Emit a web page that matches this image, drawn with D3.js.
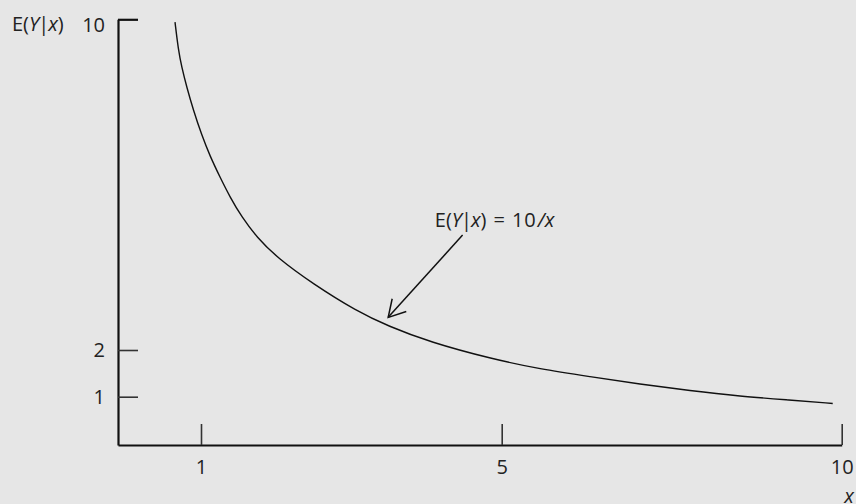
<!DOCTYPE html>
<html>
<head>
<meta charset="utf-8">
<script src="https://cdn.jsdelivr.net/npm/d3@7"></script>
<style>
  html, body { margin: 0; padding: 0; background: #e6e6e6; }
  svg { display: block; font-family: "Open Sans", sans-serif; }
</style>
</head>
<body>
<script>
const width = 856;
const height = 504;

// curve E(Y|x) = 10/x
const curveX = [0.687, 0.727, 0.767, 0.828, 0.907, 1.009, 1.12, 1.253, 1.386, 1.541, 1.741, 2.015,
                2.49, 3.071, 3.488, 4.046, 4.867, 5.563, 6.299, 7.034, 7.769, 8.504, 9.24, 9.868];
const curveY = [9.93, 9.26, 8.85, 8.36, 7.81, 7.2, 6.69, 6.18, 5.7, 5.22, 4.73, 4.23,
                3.6, 2.94, 2.58, 2.19, 1.81, 1.59, 1.43, 1.27, 1.13, 1.01, 0.93, 0.86];

const xTicks = [1, 5, 10];
const yTicks = [1, 2, 10];

// schematic axes: tick spacing is not uniform in the original
const xScale = d3.scaleLinear()
                .domain([0, 1, 5, 10])
                .range([118, 201, 501.7, 841.7]);

const yScale = d3.scaleLinear()
                .domain([0, 1, 2, 10])
                .range([445, 396.7, 350, 19.3]);

const svg = d3.select('body')
              .append('svg')
              .attr('width', width)
              .attr('height', height);

svg.append('rect')
    .attr('width', width)
    .attr('height', height)
    .attr('fill', '#e6e6e6');

const xAxis = d3.axisBottom(xScale)
                .tickValues(xTicks)
                .tickSizeInner(-21)
                .tickSizeOuter(0)
                .tickPadding(15)
                .tickFormat(d3.format('d'));

const yAxis = d3.axisLeft(yScale)
                .tickValues(yTicks)
                .tickSizeInner(-20)
                .tickSizeOuter(0)
                .tickPadding(13)
                .tickFormat(d3.format('d'));

const gx = svg.append('g')
    .attr('transform', 'translate(0,' + yScale(0) + ')')
    .call(xAxis);

const gy = svg.append('g')
    .attr('transform', 'translate(' + xScale(0) + ',0)')
    .call(yAxis);

[gx, gy].forEach(g => {
  g.select('.domain').attr('stroke', '#111').attr('stroke-width', 2.2);
  g.selectAll('.tick line').attr('stroke', '#333').attr('stroke-width', 1.6);
  g.selectAll('.tick text')
    .attr('fill', '#222')
    .style('font-size', '20px')
    .style('font-family', '"Open Sans", sans-serif');
});

// top tick forms the corner of the axis, label sits a bit lower
gy.selectAll('.tick')
  .filter(d => d === 10)
  .call(t => t.select('line').attr('stroke', '#111').attr('stroke-width', 2.2))
  .call(t => t.select('text').attr('dy', '0.62em'));

// axis titles
const yTitle = svg.append('text')
    .attr('x', 12)
    .attr('y', 31)
    .attr('fill', '#222')
    .style('font-size', '20px');
yTitle.append('tspan').text('E(');
yTitle.append('tspan').attr('font-style', 'italic').text('Y');
yTitle.append('tspan').attr('dx', -1).text('|');
yTitle.append('tspan').attr('dx', -1).attr('font-style', 'italic').text('x');
yTitle.append('tspan').text(')');

svg.append('text')
    .attr('x', 849)
    .attr('y', 503)
    .attr('text-anchor', 'middle')
    .attr('fill', '#222')
    .attr('font-style', 'italic')
    .style('font-size', '20px')
    .text('x');

// curve
const line = d3.line()
               .x(d => xScale(d[0]))
               .y(d => yScale(d[1]))
               .curve(d3.curveBasis);

svg.append('path')
    .datum(d3.zip(curveX, curveY))
    .attr('d', line)
    .attr('fill', 'none')
    .attr('stroke', '#111')
    .attr('stroke-width', 1.4);

// annotation arrow
const arrowFrom = [4.48, 4.78];
const arrowTo = [3.49, 2.79];
const x0 = xScale(arrowFrom[0]), y0 = yScale(arrowFrom[1]);
const x1 = xScale(arrowTo[0]), y1 = yScale(arrowTo[1]);
const ang = Math.atan2(y0 - y1, x0 - x1);
const barbLength = 19;
const barbAngle = Math.PI / 6;

svg.append('line')
    .attr('x1', x0).attr('y1', y0)
    .attr('x2', x1).attr('y2', y1)
    .attr('stroke', '#111')
    .attr('stroke-width', 1.5);

svg.append('path')
    .attr('d', 'M' + (x1 + barbLength * Math.cos(ang - barbAngle)) + ',' + (y1 + barbLength * Math.sin(ang - barbAngle)) +
               'L' + x1 + ',' + y1 +
               'L' + (x1 + barbLength * Math.cos(ang + barbAngle)) + ',' + (y1 + barbLength * Math.sin(ang + barbAngle)))
    .attr('fill', 'none')
    .attr('stroke', '#111')
    .attr('stroke-width', 1.5);

const label = svg.append('text')
    .attr('x', xScale(4.11))
    .attr('y', yScale(4.98))
    .attr('fill', '#222')
    .style('font-size', '20px');
label.append('tspan').text('E(');
label.append('tspan').attr('font-style', 'italic').text('Y');
label.append('tspan').attr('dx', -1).text('|');
label.append('tspan').attr('dx', -1).attr('font-style', 'italic').text('x');
label.append('tspan').text(')');
label.append('tspan').attr('dx', 7).text('=');
label.append('tspan').attr('dx', 7).attr('letter-spacing', 1).text('10');
label.append('tspan').attr('dx', 1).attr('font-style', 'italic').text('/x');
</script>
</body>
</html>
